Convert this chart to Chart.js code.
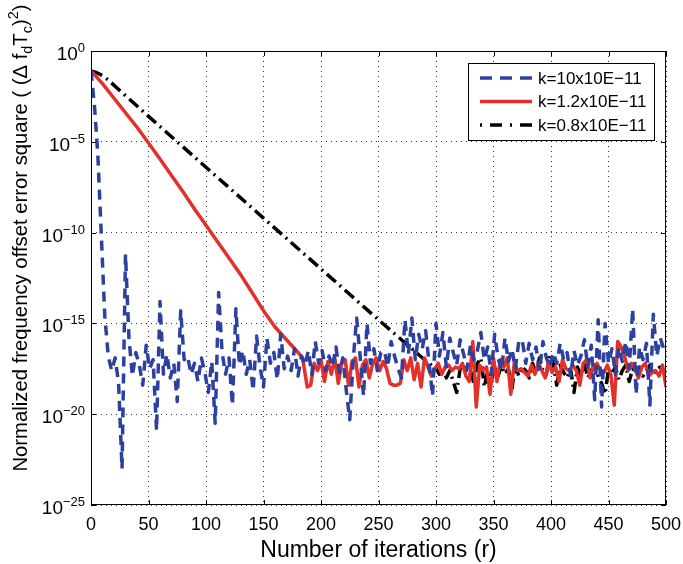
<!DOCTYPE html>
<html>
<head>
<meta charset="utf-8">
<script src="https://cdn.jsdelivr.net/npm/chart.js@4"></script>
<style>
  body { margin: 0; background: #fff; }
  #wrap { width: 683px; height: 564px; position: relative; }
</style>
</head>
<body>
<div id="wrap"><canvas id="chart"></canvas></div>
<script>
// values as log10 exponents (y = 10^exp)
const FONT = "'Liberation Sans', Arial, sans-serif";

const X_TICKS = [0, 50, 100, 150, 200, 250, 300, 350, 400, 450, 500];
const Y_TICK_EXPS = [0, -5, -10, -15, -20, -25];

const LABELS = ['k=10x10E\u221211', 'k=1.2x10E\u221211', 'k=0.8x10E\u221211'];

// k=10x10E-11, one sample every 3 iterations from 0
const BLUE_STEP = 3;
const BLUE_EXP = [
  -1.1, -3.0, -5.8, -10.2, -14.6, -16.8, -17.6, -16.9, -18.3, -23.0,
  -11.2, -15.8, -17.9, -16.6, -17.3, -18.4, -16.2, -17.5, -17.0, -20.9,
  -13.8, -17.8, -16.7, -18.0, -17.2, -19.3, -14.3, -17.0, -16.8, -17.8,
  -17.2, -18.2, -16.9, -17.7, -18.8, -17.1, -20.5, -13.3, -16.6, -17.8,
  -16.9, -19.5, -14.2, -17.3, -16.5, -17.8, -17.0, -18.7, -15.7, -17.4,
  -18.5, -15.8, -17.2, -16.6, -18.1, -15.6, -17.5, -16.8, -17.6, -16.4,
  -17.9, -16.8, -17.3, -16.5, -17.8, -16.0, -17.2, -16.5, -17.6, -16.8,
  -17.4, -16.3, -17.7, -16.9, -18.7, -20.3, -17.0, -14.7, -16.8, -19.0,
  -15.0, -17.2, -16.4, -17.6, -16.6, -16.5, -17.4, -16.0, -16.8, -17.5,
  -18.0, -14.8, -16.7, -14.7, -17.0, -15.6, -16.4, -15.4, -17.2, -19.0,
  -15.0, -16.8, -15.5, -17.4, -15.8, -16.6, -17.3, -15.9, -16.7, -17.5,
  -16.2, -17.0, -16.5, -15.5, -17.0, -16.3, -17.8, -15.6, -16.9, -17.6,
  -15.8, -17.1, -16.4, -17.5, -16.0, -15.9, -17.2, -16.1, -17.0, -16.3,
  -17.6, -16.0, -16.9, -17.4, -16.6, -17.2, -16.1, -17.0, -16.6, -17.9,
  -16.5, -17.3, -16.8, -15.9, -17.4, -16.2, -19.2, -14.8, -19.6, -15.0,
  -17.2, -16.4, -17.8, -16.3, -17.1, -16.0, -17.5, -14.2, -18.9, -16.3,
  -17.0, -16.1, -19.5, -14.5, -16.8, -15.8, -16.4
];

// k=1.2x10E-11: straight descent, then noise every 3 iterations
const RED_RAMP_ITER = [0, 10, 20, 30, 40, 50, 60, 70, 80, 90, 100, 110, 120, 130, 140, 150, 160, 170, 180, 184, 188, 191, 194];
const RED_RAMP_EXP = [-1.1, -1.8, -2.6, -3.4, -4.2, -5.07, -5.95, -6.85, -7.75, -8.7, -9.6, -10.5, -11.4, -12.3, -13.3, -14.3, -15.2, -15.9, -16.6, -16.9, -18.5, -18.4, -17.2];
const RED_NOISE_START = 197;
const RED_NOISE_EXP = [
  -17.6, -17.0, -18.2, -17.1, -17.8, -16.9, -18.3, -17.2, -17.0, -18.4,
  -17.1, -16.9, -18.5, -17.3, -17.0, -18.0, -17.2, -16.9, -17.6, -17.1,
  -17.5, -18.3, -18.4, -18.4, -18.3, -17.0, -17.6, -16.9, -18.1, -17.2,
  -18.5, -16.9, -17.4, -17.9, -17.5, -17.2, -17.8, -17.4, -17.3, -17.6,
  -17.4, -17.5, -17.2, -17.9, -18.2, -16.0, -19.6, -17.3, -17.6, -17.4,
  -18.9, -16.9, -18.2, -17.0, -17.4, -16.9, -18.9, -17.2, -17.6, -17.5,
  -17.7, -17.9, -17.3, -17.8, -17.2, -17.6, -18.0, -17.1, -17.7, -17.4,
  -18.2, -17.0, -17.5, -17.6, -17.3, -17.6, -18.4, -17.2, -17.0, -18.0,
  -17.4, -17.2, -17.6, -17.7, -17.3, -17.8, -19.5, -16.0, -16.3, -16.8,
  -17.6, -17.2, -17.5, -18.0, -17.4, -17.2, -17.9, -17.7, -17.6, -17.9,
  -17.3, -18.5
];

// k=0.8x10E-11: slower descent, then noise every 3 iterations
const BLACK_RAMP_ITER = [0, 5, 10, 15, 50, 100, 150, 200, 250, 290, 300];
const BLACK_RAMP_EXP = [-1.1, -1.2, -1.35, -1.6, -3.6, -6.4, -9.2, -12.0, -14.8, -17.0, -17.5];
const BLACK_NOISE_START = 303;
const BLACK_NOISE_EXP = [
  -17.8, -17.4, -18.0, -17.6, -18.2, -18.8, -17.5, -17.4, -17.7, -17.6,
  -18.3, -17.2, -16.9, -18.5, -17.6, -18.2, -17.4, -17.9, -17.3, -17.8,
  -17.5, -18.6, -17.3, -17.9, -17.4, -17.6, -18.0, -17.2, -17.8, -16.9,
  -17.6, -17.8, -16.7, -17.2, -18.4, -17.3, -17.7, -18.0, -17.5, -18.8,
  -17.4, -17.9, -17.2, -18.0, -17.6, -17.3, -17.9, -18.3, -18.9, -17.5,
  -17.8, -17.4, -18.1, -17.6, -17.3, -18.2, -17.5, -17.8, -17.4, -17.9,
  -17.6, -17.3, -17.8, -17.5, -17.4, -17.7
];

const pow10 = e => Number('1e' + e) || Math.pow(10, e);

function toPoints(iters, exps) {
  return exps.map((e, i) => ({ x: iters[i], y: Math.pow(10, e) }));
}
function stepIters(start, step, n) {
  return Array.from({ length: n }, (_, i) => start + i * step);
}

const bluePts = toPoints(stepIters(0, BLUE_STEP, BLUE_EXP.length), BLUE_EXP);
const redPts = toPoints(RED_RAMP_ITER, RED_RAMP_EXP)
  .concat(toPoints(stepIters(RED_NOISE_START, 3, RED_NOISE_EXP.length), RED_NOISE_EXP));
const blackPts = toPoints(BLACK_RAMP_ITER, BLACK_RAMP_EXP)
  .concat(toPoints(stepIters(BLACK_NOISE_START, 3, BLACK_NOISE_EXP.length), BLACK_NOISE_EXP));

const COLORS = { blue: '#2c40a0', red: '#e2302a', black: '#000000' };

// axes box, inward ticks, tick labels, axis titles and legend
const matlabFrame = {
  id: 'matlabFrame',
  afterDraw(chart) {
    const { ctx, chartArea: a, scales } = chart;
    const xs = scales.x, ys = scales.y;
    ctx.save();

    // box
    ctx.strokeStyle = '#000';
    ctx.lineWidth = 1;
    ctx.setLineDash([]);
    ctx.strokeRect(a.left + 0.5, a.top + 0.5, a.right - a.left - 1, a.bottom - a.top - 1);

    // inward ticks
    ctx.beginPath();
    X_TICKS.forEach(v => {
      const px = Math.round(xs.getPixelForValue(v)) + 0.5;
      ctx.moveTo(px, a.bottom); ctx.lineTo(px, a.bottom - 5);
      ctx.moveTo(px, a.top); ctx.lineTo(px, a.top + 5);
    });
    Y_TICK_EXPS.forEach(e => {
      const py = Math.round(ys.getPixelForValue(pow10(e))) + 0.5;
      ctx.moveTo(a.left, py); ctx.lineTo(a.left + 5, py);
      ctx.moveTo(a.right, py); ctx.lineTo(a.right - 5, py);
    });
    ctx.stroke();

    ctx.fillStyle = '#000';
    ctx.textBaseline = 'alphabetic';

    // x tick labels and title
    ctx.font = '18px ' + FONT;
    ctx.textAlign = 'center';
    X_TICKS.forEach(v => ctx.fillText(String(v), xs.getPixelForValue(v), a.bottom + 25));
    ctx.font = '23px ' + FONT;
    ctx.fillText('Number of iterations (r)', (a.left + a.right) / 2, 557);

    // y tick labels 10^e
    ctx.textAlign = 'left';
    Y_TICK_EXPS.forEach(e => {
      const py = ys.getPixelForValue(pow10(e));
      const expTxt = e === 0 ? '0' : '\u2212' + Math.abs(e);
      ctx.font = '13px ' + FONT;
      const ew = ctx.measureText(expTxt).width;
      ctx.font = '19px ' + FONT;
      const bw = ctx.measureText('10').width;
      const right = a.left - 6;
      ctx.fillText('10', right - ew - bw, py + 9);
      ctx.font = '13px ' + FONT;
      ctx.fillText(expTxt, right - ew, py + 1);
    });

    // y title with sub/superscripts
    const parts = [
      { t: 'Normalized frequency offset error square ( (\u0394 f', size: 20.3, dy: 0 },
      { t: 'd', size: 14.5, dy: 5 },
      { t: 'T', size: 20.3, dy: 0 },
      { t: 'c', size: 14.5, dy: 5 },
      { t: ')', size: 20.3, dy: 0 },
      { t: '2', size: 14.5, dy: -9 },
      { t: ')', size: 20.3, dy: 0 }
    ];
    let total = 0;
    parts.forEach(p => { ctx.font = p.size + 'px ' + FONT; p.w = ctx.measureText(p.t).width; total += p.w; });
    ctx.translate(27, 238);
    ctx.rotate(-Math.PI / 2);
    let cx = -total / 2;
    parts.forEach(p => {
      ctx.font = p.size + 'px ' + FONT;
      ctx.fillText(p.t, cx, p.dy);
      cx += p.w;
    });
    ctx.setTransform(1, 0, 0, 1, 0, 0);

    // legend
    const lx = 468, ly = 63, lw = 186, lh = 77;
    ctx.fillStyle = '#fff';
    ctx.fillRect(lx, ly, lw, lh);
    ctx.strokeStyle = '#000';
    ctx.lineWidth = 1;
    ctx.strokeRect(lx + 0.5, ly + 0.5, lw, lh);
    chart.data.datasets.forEach((ds, i) => {
      const y = ly + 15 + i * 23.5;
      ctx.strokeStyle = ds.borderColor;
      ctx.lineWidth = ds.borderWidth;
      ctx.setLineDash(ds.legendDash);
      ctx.beginPath();
      ctx.moveTo(480, y); ctx.lineTo(532, y);
      ctx.stroke();
      ctx.setLineDash([]);
      ctx.fillStyle = '#000';
      ctx.font = '17px ' + FONT;
      ctx.textBaseline = 'middle';
      ctx.textAlign = 'left';
      ctx.fillText(ds.label, 538, y + 1);
    });
    ctx.restore();
  }
};

new Chart(document.getElementById('chart'), {
  type: 'line',
  data: {
    datasets: [
      {
        label: LABELS[0], data: bluePts,
        borderColor: COLORS.blue, borderWidth: 3.5, borderDash: [10, 7], legendDash: [12, 8]
      },
      {
        label: LABELS[1], data: redPts,
        borderColor: COLORS.red, borderWidth: 3.5, borderDash: [], legendDash: []
      },
      {
        label: LABELS[2], data: blackPts,
        borderColor: COLORS.black, borderWidth: 3.5, borderDash: [12, 5, 2, 5], legendDash: [2, 8, 12, 8]
      }
    ]
  },
  options: {
    responsive: true,
    maintainAspectRatio: false,
    animation: false,
    parsing: false,
    layout: { padding: { left: 91, right: 17, top: 51, bottom: 59 } },
    elements: { point: { radius: 0 }, line: { tension: 0, borderJoinStyle: 'round' } },
    plugins: { legend: { display: false }, tooltip: { enabled: false } },
    scales: {
      x: {
        type: 'linear', min: 0, max: 500,
        afterBuildTicks: s => { s.ticks = X_TICKS.map(v => ({ value: v })); },
        grid: { color: '#333', drawTicks: false, lineWidth: 1 },
        border: { display: false, dash: [1, 4] },
        ticks: { display: false }
      },
      y: {
        type: 'logarithmic', min: 1e-25, max: 1,
        afterBuildTicks: s => { s.ticks = Y_TICK_EXPS.map(e => ({ value: pow10(e) })); },
        grid: { color: '#333', drawTicks: false, lineWidth: 1 },
        border: { display: false, dash: [1, 4] },
        ticks: { display: false }
      }
    }
  },
  plugins: [matlabFrame]
});
</script>
</body>
</html>
